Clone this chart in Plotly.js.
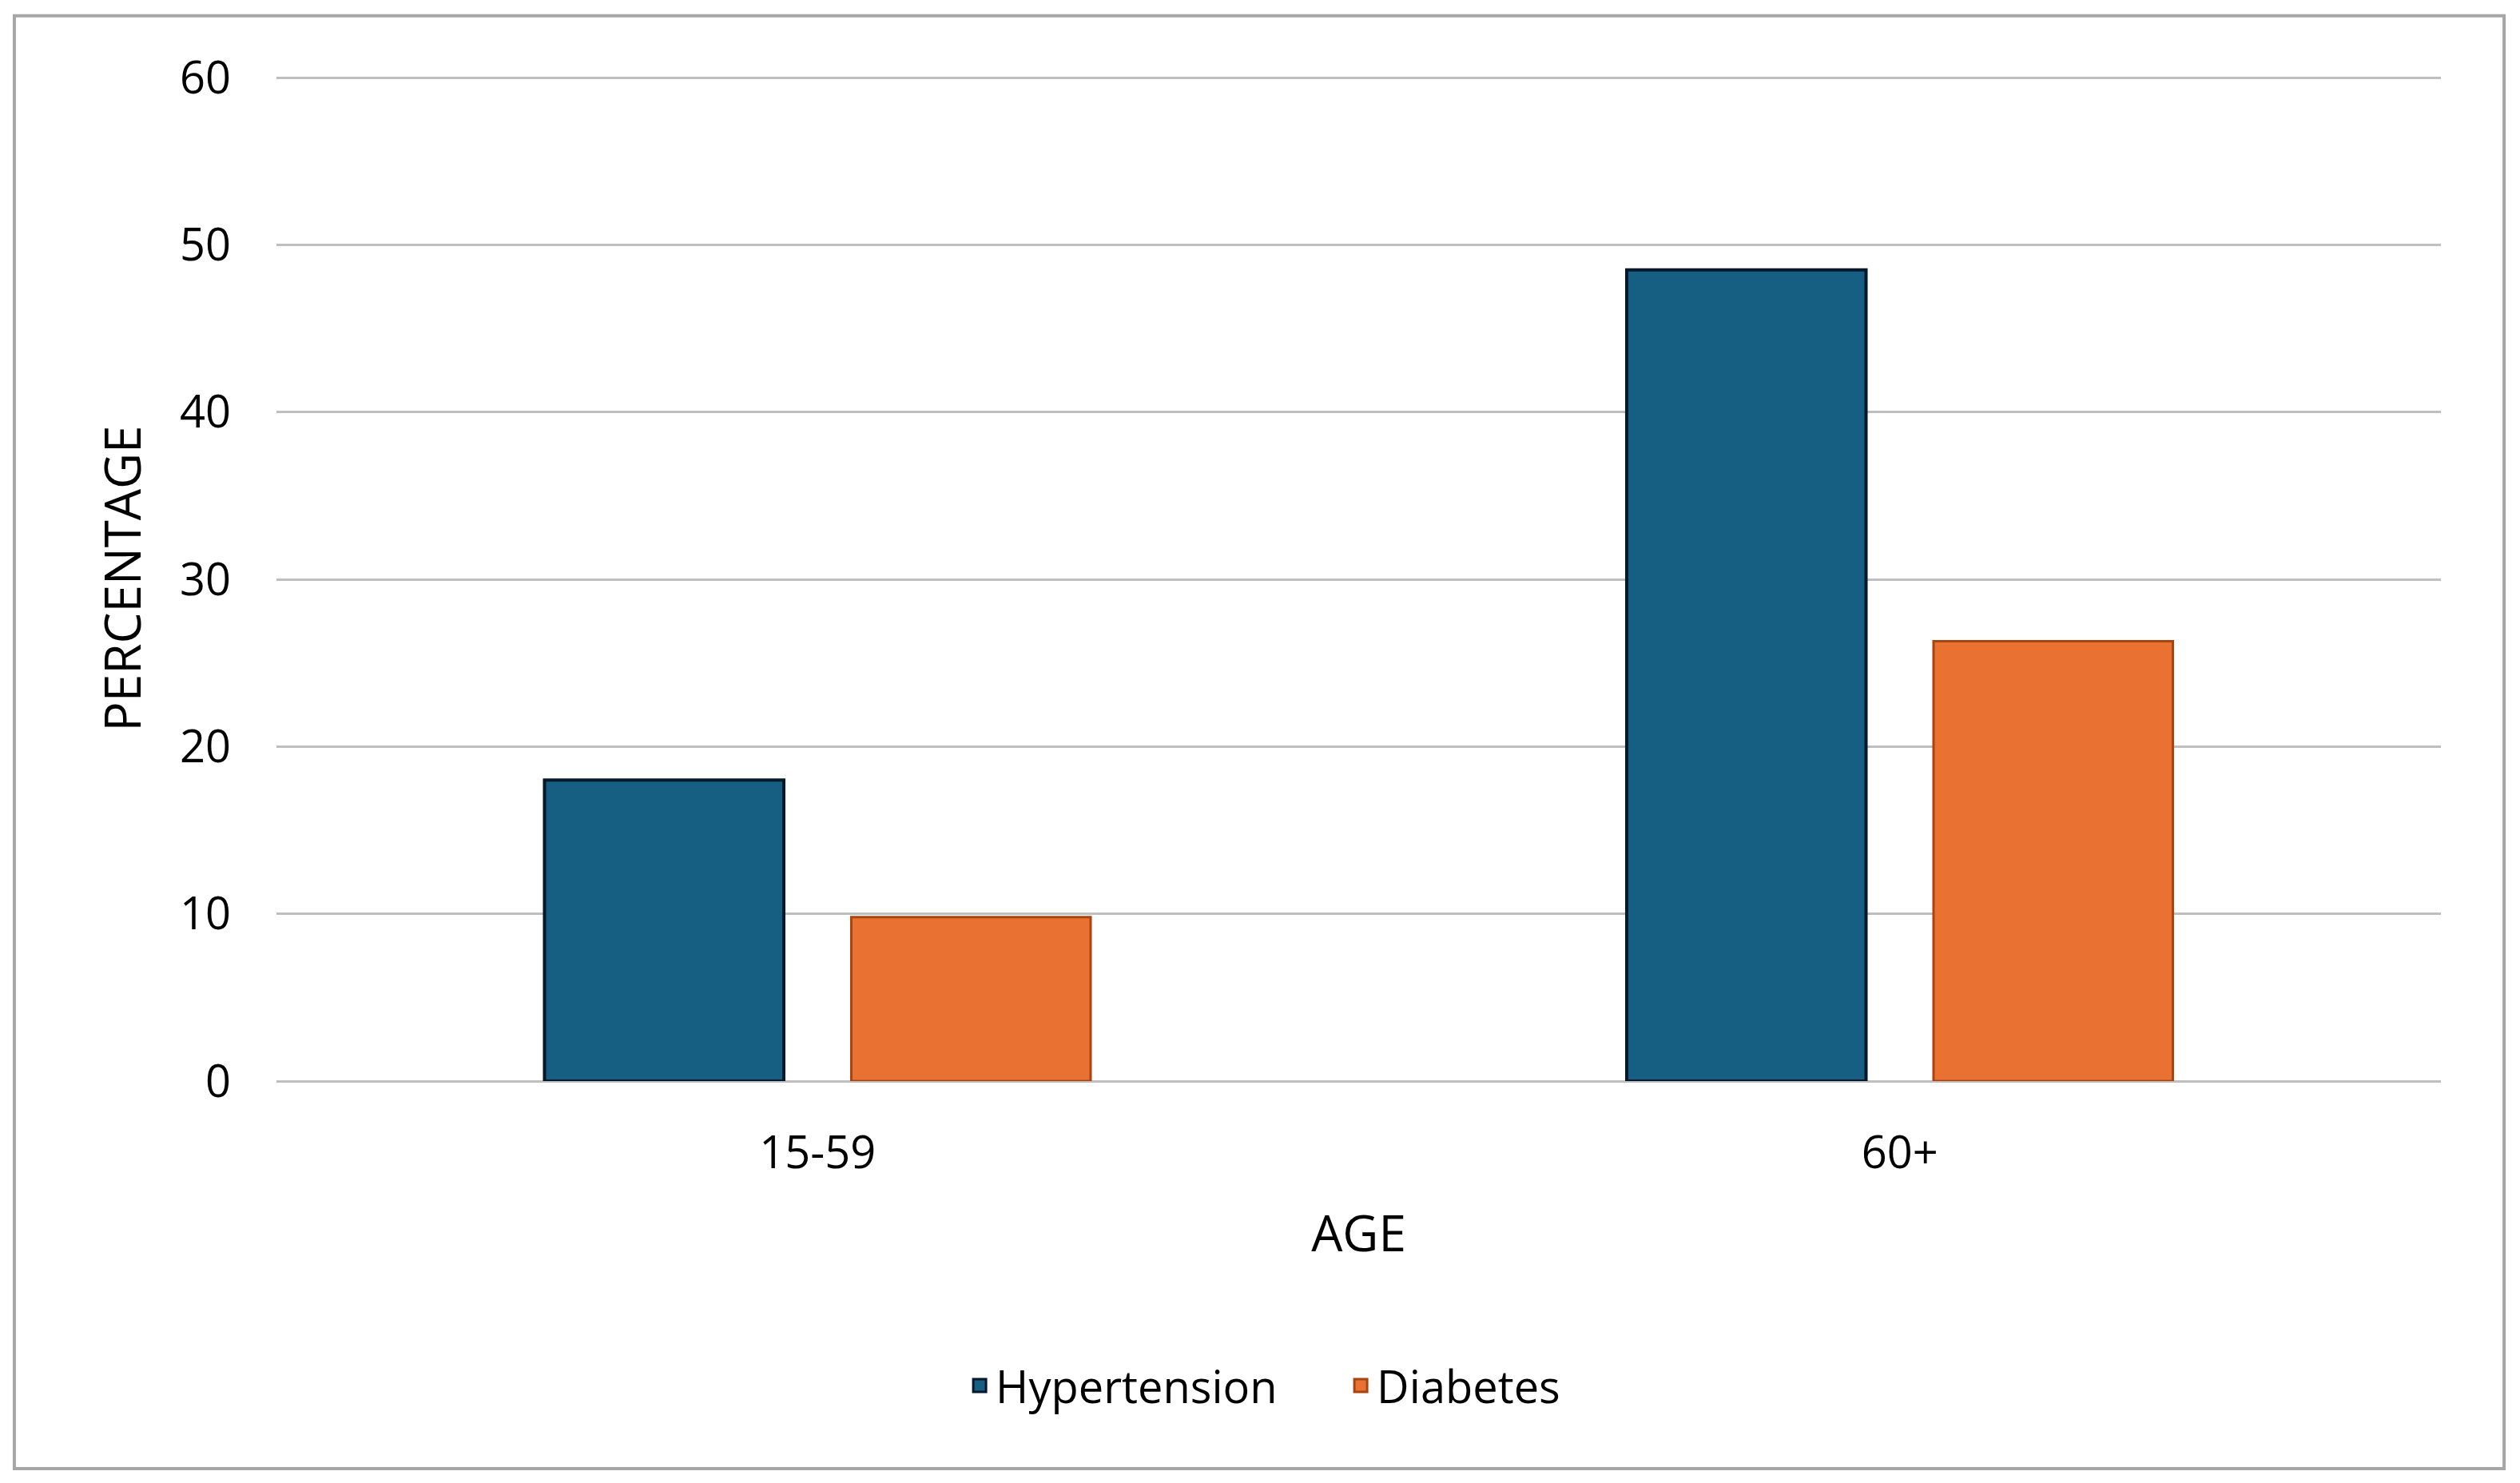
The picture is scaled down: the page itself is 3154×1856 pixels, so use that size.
<!DOCTYPE html>
<html>
<head>
<meta charset="utf-8">
<script src="https://cdn.plot.ly/plotly-3.0.1.min.js"></script>
<style>html,body{margin:0;padding:0;background:#fff;}#chart{width:3154px;height:1856px;}</style>
</head>
<body>
<div id="chart"></div>
<script>
const categories = ["15-59", "60+"];
const hypertension = [18, 48.5];
const diabetes = [9.8, 26.3];
const seriesNames = ["Hypertension", "Diabetes"];
const yTicks = [0, 10, 20, 30, 40, 50, 60];

const FONT = "Open Sans, Liberation Sans, sans-serif";
const BLUE = "#175f82", BLUE_EDGE = "#06182b";
const ORANGE = "#e97132", ORANGE_EDGE = "#a8440f";

const traces = [
  {
    type: "bar", name: seriesNames[0], x: categories, y: hypertension, showlegend: false,
    marker: { color: BLUE, line: { color: BLUE_EDGE, width: 4 } }, hoverinfo: "skip"
  },
  {
    type: "bar", name: seriesNames[1], x: categories, y: diabetes, showlegend: false,
    marker: { color: ORANGE, line: { color: ORANGE_EDGE, width: 3 } }, hoverinfo: "skip"
  },
  {
    type: "scatter", mode: "markers", name: seriesNames[0], x: [null], y: [null], showlegend: true,
    marker: { symbol: "square", size: 16, color: BLUE, line: { color: BLUE_EDGE, width: 3 } }, hoverinfo: "skip"
  },
  {
    type: "scatter", mode: "markers", name: seriesNames[1], x: [null], y: [null], showlegend: true,
    marker: { symbol: "square", size: 16, color: ORANGE, line: { color: ORANGE_EDGE, width: 3 } }, hoverinfo: "skip"
  }
];

const layout = {
  width: 3154, height: 1856,
  paper_bgcolor: "#ffffff", plot_bgcolor: "#ffffff",
  margin: { l: 346, r: 99, t: 95, b: 503, pad: 0 },
  font: { family: FONT, color: "#000000", size: 56 },
  barmode: "group",
  bargap: 0.433,
  bargroupgap: 0.22,
  showlegend: true,
  legend: {
    orientation: "h", x: 0.3175, xanchor: "left", y: -0.303, yanchor: "middle",
    font: { family: FONT, size: 56, color: "#000" },
    entrywidth: 432, entrywidthmode: "pixels",
    itemwidth: 30, tracegroupgap: 0, bgcolor: "rgba(0,0,0,0)"
  },
  xaxis: {
    type: "category",
    showgrid: false, zeroline: false, showline: false, ticks: "",
    tickfont: { family: FONT, size: 56, color: "#000" },
    ticklabelstandoff: 52,
    title: { text: "AGE", font: { family: FONT, size: 62, color: "#000" }, standoff: 45 }
  },
  yaxis: {
    range: [0, 60.1], tickvals: yTicks, ticktext: yTicks.map(String),
    showgrid: true, gridcolor: "#bfbfbf", gridwidth: 3,
    zeroline: true, zerolinecolor: "#bfbfbf", zerolinewidth: 3,
    showline: false, ticks: "",
    tickfont: { family: FONT, size: 56, color: "#000" },
    ticklabelstandoff: 56,
    title: { text: "PERCENTAGE", font: { family: FONT, size: 62, color: "#000" }, standoff: 28 }
  },
  shapes: [
    {
      type: "rect", xref: "paper", yref: "paper",
      x0: -0.1211, x1: 1.0292, y0: -0.3855, y1: 1.0598,
      line: { color: "#a6a6a6", width: 4 }, fillcolor: "rgba(0,0,0,0)", layer: "below"
    }
  ]
};

Plotly.newPlot("chart", traces, layout, { staticPlot: true, displayModeBar: false });
</script>
</body>
</html>
